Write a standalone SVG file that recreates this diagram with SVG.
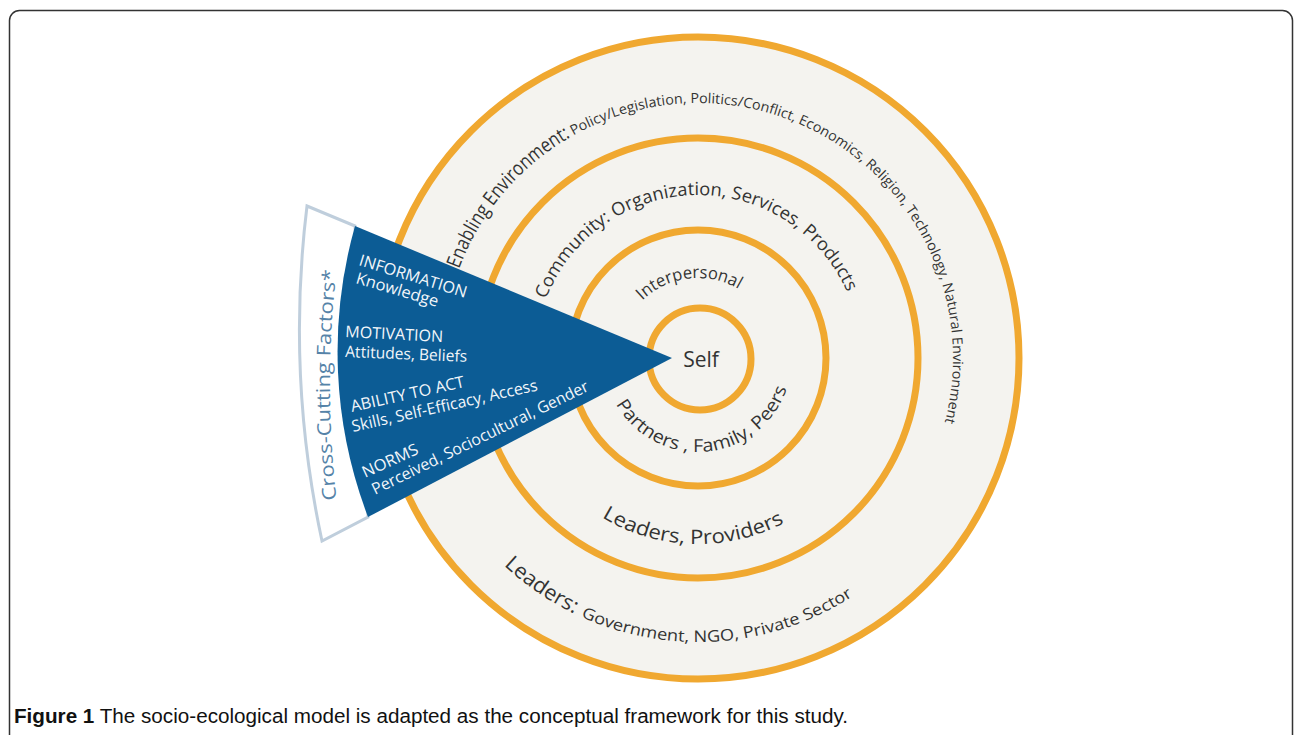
<svg xmlns="http://www.w3.org/2000/svg" width="1295" height="735" viewBox="0 0 1295 735">
<style>
.ring{fill:none;stroke:#F0A830;stroke-width:7}
.rt{font-family:"Open Sans","Noto Sans",sans-serif;fill:#333333}
.wt{font-family:"Open Sans","Noto Sans",sans-serif;fill:#f2f6fa;font-size:16px}
.cap{font-family:"Liberation Sans",Arial,sans-serif;font-size:20px;fill:#111}
</style>
<defs>
<path id="pEnv" d="M 443 358 A 255 255 0 1 1 953 358 A 255 255 0 1 1 443 358"/>
<path id="pCom" d="M 535 358 A 163 163 0 1 1 861 358 A 163 163 0 1 1 535 358"/>
<path id="pInt" d="M 618 358 A 80 80 0 1 1 778 358 A 80 80 0 1 1 618 358"/>
<path id="pPar" d="M 604 358 A 94 94 0 1 0 792 358 A 94 94 0 1 0 604 358"/>
<path id="pLP" d="M 512 358 A 186 186 0 1 0 884 358 A 186 186 0 1 0 512 358"/>
<path id="pLG" d="M 414 358 A 284 284 0 1 0 982 358 A 284 284 0 1 0 414 358"/>
<path id="pCC" d="M 342 540 A 1000 1000 0 0 1 342 230"/>
</defs>
<rect x="0" y="0" width="1295" height="735" fill="#ffffff"/>
<rect x="9.5" y="10.5" width="1283" height="760" rx="10" fill="none" stroke="#333" stroke-width="1.5"/>

<g id="ring-enabling">
<circle class="ring" cx="698" cy="358" r="321" style="fill:#F4F3EF"/>
<text class="rt" font-size="20"><textPath href="#pEnv" startOffset="91" textLength="176" lengthAdjust="spacingAndGlyphs">Enabling Environment:</textPath></text>
<text class="rt" font-size="14"><textPath href="#pEnv" startOffset="270" textLength="596" lengthAdjust="spacingAndGlyphs">Policy/Legislation, Politics/Conflict, Economics, Religion, Technology, Natural Environment</textPath></text>
<text class="rt" font-size="21"><textPath href="#pLG" startOffset="232" textLength="86" lengthAdjust="spacingAndGlyphs">Leaders:</textPath></text>
<text class="rt" font-size="16"><textPath href="#pLG" startOffset="325" textLength="285" lengthAdjust="spacingAndGlyphs">Government, NGO, Private Sector</textPath></text>
</g>

<g id="ring-community">
<circle class="ring" cx="698" cy="358" r="220"/>
<text class="rt" font-size="18"><textPath href="#pCom" startOffset="60" textLength="384" lengthAdjust="spacingAndGlyphs">Community: Organization, Services, Products</textPath></text>
<text class="rt" font-size="20"><textPath href="#pLP" startOffset="191" textLength="191" lengthAdjust="spacingAndGlyphs">Leaders, Providers</textPath></text>
</g>

<g id="ring-interpersonal">
<circle class="ring" cx="698" cy="358" r="128"/>
<text class="rt" font-size="17"><textPath href="#pInt" startOffset="64" textLength="104" lengthAdjust="spacingAndGlyphs">Interpersonal</textPath></text>
<text class="rt" font-size="18"><textPath href="#pPar" startOffset="48" textLength="216" lengthAdjust="spacingAndGlyphs">Partners , Family, Peers</textPath></text>
</g>

<g id="ring-self">
<circle class="ring" cx="700" cy="359" r="51"/>
<text class="rt" x="701" y="367" font-size="21" text-anchor="middle">Self</text>
</g>

<g id="cross-cutting">
<path d="M 355 226 L 307 206 A 1010 1010 0 0 0 322 541 L 368 517 Z" fill="#ffffff" stroke="#BFCEDC" stroke-width="3"/>
<text font-family="Open Sans, Noto Sans, sans-serif" font-size="19" fill="#5583a8" text-anchor="middle"><textPath href="#pCC" startOffset="50%" textLength="230" lengthAdjust="spacingAndGlyphs">Cross-Cutting Factors*</textPath></text>
</g>

<g id="wedge">
<path d="M 672 358 L 355 226 A 463 463 0 0 0 368 517 Z" fill="#0C5C95"/>
<text class="wt" transform="translate(358,265) rotate(17)" textLength="112" lengthAdjust="spacingAndGlyphs">INFORMATION</text>
<text class="wt" transform="translate(355,283) rotate(16.3)" textLength="85" lengthAdjust="spacingAndGlyphs">Knowledge</text>
<text class="wt" transform="translate(345,337) rotate(3)" textLength="98" lengthAdjust="spacingAndGlyphs">MOTIVATION</text>
<text class="wt" transform="translate(345,357) rotate(2.3)" textLength="122" lengthAdjust="spacingAndGlyphs">Attitudes, Beliefs</text>
<text class="wt" transform="translate(352,412) rotate(-12.5)" textLength="116" lengthAdjust="spacingAndGlyphs">ABILITY TO ACT</text>
<text class="wt" transform="translate(353,432) rotate(-12.7)" textLength="190" lengthAdjust="spacingAndGlyphs">Skills, Self-Efficacy, Access</text>
<text class="wt" transform="translate(365,478) rotate(-24.4)" textLength="60" lengthAdjust="spacingAndGlyphs">NORMS</text>
<text class="wt" transform="translate(375,495) rotate(-26)" textLength="239" lengthAdjust="spacingAndGlyphs">Perceived, Sociocultural, Gender</text>
</g>

<g id="caption">
<text class="cap" x="14" y="723" textLength="834" lengthAdjust="spacingAndGlyphs"><tspan font-weight="bold">Figure 1</tspan> The socio-ecological model is adapted as the conceptual framework for this study.</text>
</g>
</svg>
